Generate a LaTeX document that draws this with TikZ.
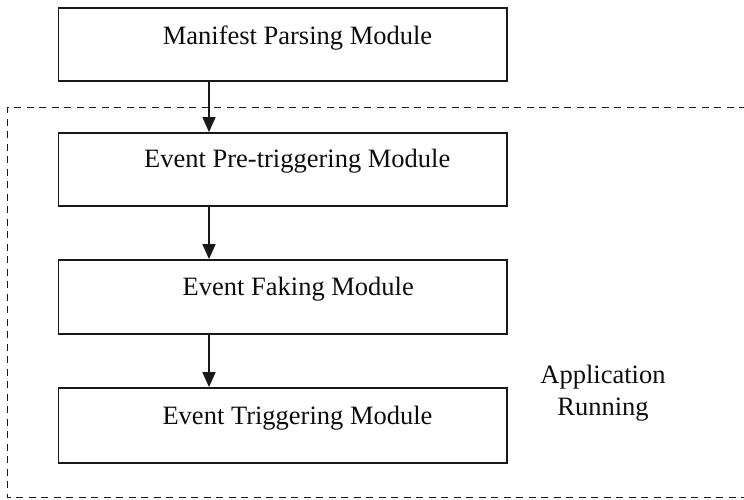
\documentclass[tikz,border=0pt]{standalone}
\usepackage{fontspec}
\setmainfont{Liberation Serif}
\usetikzlibrary{arrows.meta}
\begin{document}
\begin{tikzpicture}[x=1pt,y=-1pt,
  modbox/.style={draw=black!90, line width=1.8pt, rectangle, minimum width=448.5pt,
    minimum height=73pt, inner sep=0pt},
  modtext/.style={font=\fontsize{26.5}{32}\selectfont, inner sep=0pt, text=black!95},
  flow/.style={line width=1.7pt, draw=black!90, -{Triangle[length=15pt,width=13pt]}},
  runarea/.style={draw=black!90, line width=1.6pt, dash pattern=on 7pt off 5.5pt}]
  \useasboundingbox (0,0) rectangle (744,499);

  % application running area (open towards the right edge)
  \draw[runarea] (746,107.5) -- (7.3,107.5) -- (7.3,497.5) -- (746,497.5);

  % module boxes
  \node[modbox, label={[modtext, name=t1, xshift=14.75pt, yshift=6.3pt]center:Manifest Parsing Module}] (b1) at (282.75,44.5) {};
  \node[modbox, label={[modtext, name=t2, xshift=14.5pt, yshift=8pt]center:Event Pre-triggering Module}] (b2) at (282.75,169.5) {};
  \node[modbox, minimum height=74pt, label={[modtext, name=t3, xshift=15.5pt, yshift=7.5pt]center:Event Faking Module}] (b3) at (282.75,297) {};
  \node[modbox, minimum height=75pt, label={[modtext, name=t4, xshift=14.75pt, yshift=7.5pt]center:Event Triggering Module}] (b4) at (282.75,425.5) {};

  % area label
  \node[modtext, align=center] (app) at (603,393) {Application\\Running};

  % flow between modules
  \coordinate (ax) at (209,0);
  \draw[flow] (b1.south -| ax) -- (b2.north -| ax);
  \draw[flow] (b2.south -| ax) -- (b3.north -| ax);
  \draw[flow] (b3.south -| ax) -- (b4.north -| ax);
\end{tikzpicture}
\end{document}
